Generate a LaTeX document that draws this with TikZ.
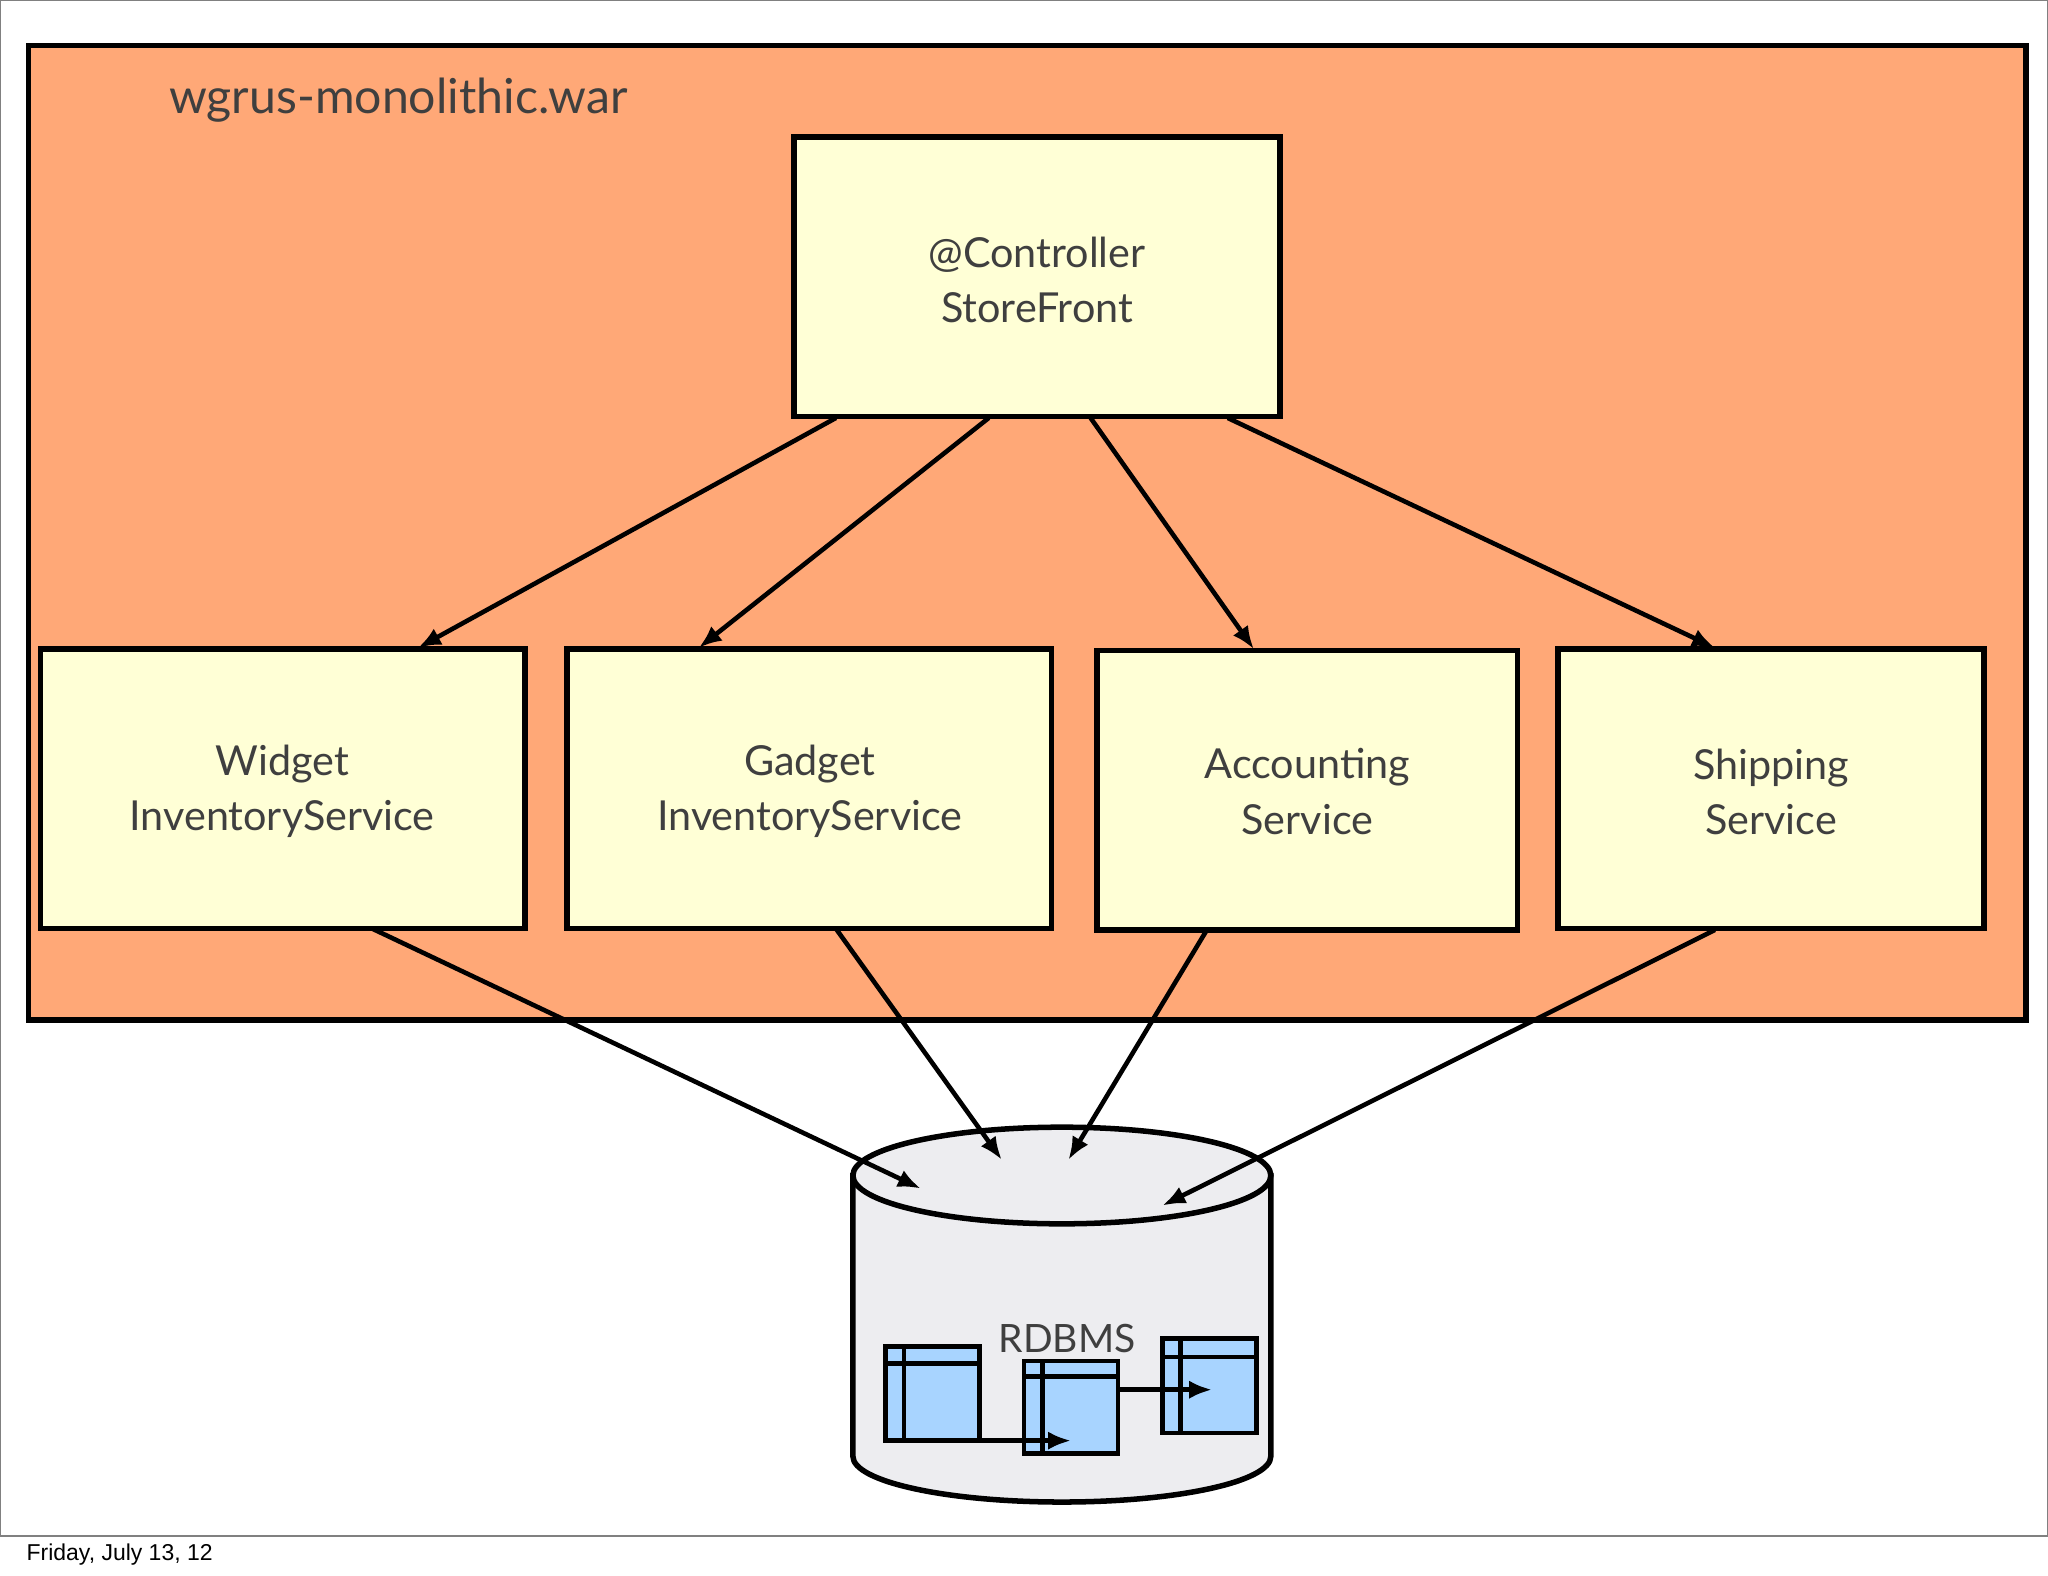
\documentclass[tikz,border=0pt]{standalone}
\usepackage{fontspec}
\setmainfont{Lato}
\newfontfamily\arialf{Liberation Sans}
\usetikzlibrary{arrows.meta}
\begin{document}
\begin{tikzpicture}[x=0.01cm,y=-0.01cm,
  box/.style={draw=black,line width=1.2pt,fill=yellowbox},
  lbl/.style={text=txt,align=center,font=\fontsize{9}{12}\selectfont},
  arr/.style={-{Latex[length=5pt,width=4pt]},line width=1pt},
  tbl/.style={draw=black,line width=1pt,fill=tblue}]
\definecolor{orangebg}{HTML}{FFA877}
\definecolor{yellowbox}{HTML}{FFFFD6}
\definecolor{txt}{HTML}{3F3F3F}
\definecolor{cyl}{HTML}{EDEDF0}
\definecolor{tblue}{HTML}{A8D4FF}
\useasboundingbox (0,0) rectangle (1568,1206.6);
\fill[white] (0,0) rectangle (1568,1206.6);
\draw[line width=0.5pt,gray] (0,0) rectangle (1568,1176);
\node[anchor=west,font=\fontsize{5}{6}\selectfont\arialf] (date) at (8,1190) {Friday, July 13, 12};
\draw[fill=orangebg,line width=1.2pt] (22,35) rectangle (1551,781);
\node[anchor=west,text=txt,font=\fontsize{10.5}{12}\selectfont] (title) at (117,77) {wgrus-monolithic.war};
\draw[box] (608,105) rectangle (980,319);
\node[lbl] (ctlt) at (794,214) {@Controller\\StoreFront};
\draw[box] (31,497) rectangle (402,711);
\node[lbl] (w) at (216,606) {Widget\\InventoryService};
\draw[box] (434,497) rectangle (805,711);
\node[lbl] (g) at (620,606) {Gadget\\InventoryService};
\draw[box] (840,498) rectangle (1162,712);
\node[lbl] (a) at (1001,606) {Accounting\\Service};
\draw[box] (1193,497) rectangle (1519,711);
\node[lbl] (s) at (1356,606) {Shipping\\Service};
% cylinder
\draw[fill=cyl,line width=1.2pt] (653,900) -- (653,1115) arc[start angle=180,end angle=0,x radius=160,y radius=35] -- (973,900) -- cycle;
\draw[fill=cyl,line width=1.2pt] (813,900) ellipse[x radius=160,y radius=37];
\node[text=txt,font=\fontsize{8.5}{10}\selectfont] (db) at (817,1025) {RDBMS};
% tables
\draw[tbl] (678,1031) rectangle (750,1103); \draw[line width=1pt] (678,1044)--(750,1044) (692,1031)--(692,1103);
\draw[tbl] (784,1042) rectangle (856,1113); \draw[line width=1pt] (784,1054)--(856,1054) (798,1042)--(798,1113);
\draw[tbl] (890,1025) rectangle (962,1097); \draw[line width=1pt] (890,1039)--(962,1039) (904,1025)--(904,1097);
\draw[arr] (750,1103) -- (820,1103);
\draw[arr] (856,1064) -- (928,1064);
% arrows
\draw[arr] (640,320) -- (320,496);
\draw[arr] (757,320) -- (535,496);
\draw[arr] (835,320) -- (960,497);
\draw[arr] (940,320) -- (1313,496);
\draw[arr] (285,711) -- (705,910);
\draw[arr] (640,711) -- (767,888);
\draw[arr] (924,712) -- (818,888);
\draw[arr] (1313,712) -- (890,923);
\end{tikzpicture}
\end{document}
